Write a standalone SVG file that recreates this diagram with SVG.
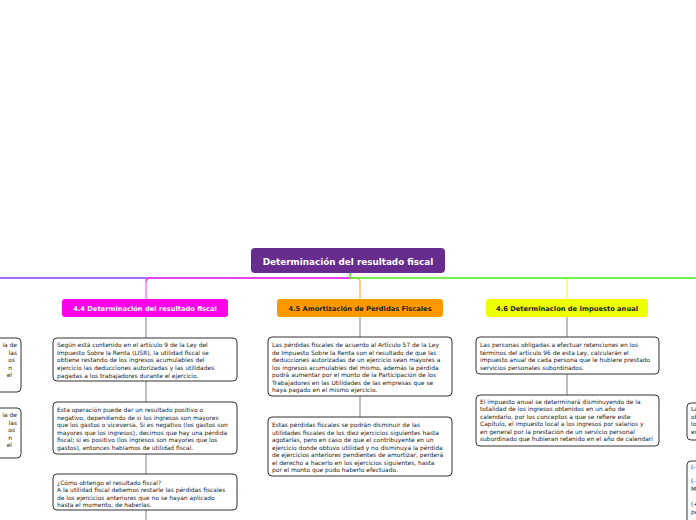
<svg xmlns="http://www.w3.org/2000/svg" width="696" height="520" viewBox="0 0 696 520">
<style>
.t{font-family:"DejaVu Sans",Verdana,sans-serif;font-size:5.95px;fill:#222}
.h{font-family:"DejaVu Sans",Verdana,sans-serif;font-size:6.7px;font-weight:bold;text-anchor:middle}
.box{fill:#fff;stroke:#333;stroke-width:1}
.g{stroke:#aaa;stroke-width:1.5;fill:none}
.c{fill:none;stroke-width:1.5}
</style>
<rect width="696" height="520" fill="#fff"/>
<g id="connectors">
<path class="c" stroke="#8a3cf0" d="M350,278 H0"/>
<path class="c" stroke="#ff33ee" d="M350,278 H150 Q146,278 146,282"/>
<path class="c" stroke="#ff77ff" d="M146,281 V299"/>
<path class="c" stroke="#ffbb66" d="M350,278 H356 Q360,278 360,282 V299"/>
<path class="c" stroke="#eeff55" d="M563,278 Q567,278 567,282 V299"/>
<path class="c" stroke="#44ee11" d="M350,273 V278 H696"/>
<path class="g" d="M146,317 V338 M146,381 V402 M146,454 V474 M146,510 V520"/>
<path class="g" d="M360,317 V337 M360,396 V417"/>
<path class="g" d="M567,317 V337 M567,374 V395"/>
</g>
<g id="root">
<rect x="251" y="248" width="194" height="25" rx="4" fill="#682c8f"/>
<text x="348" y="265" class="h" style="font-size:8.8px" fill="#fff">Determinación del resultado fiscal</text>
</g>
<g id="n44">
<rect x="62" y="299" width="166" height="18" rx="3" fill="#ff00ea"/>
<text x="145" y="310.6" class="h" fill="#fff">4.4 Determinación del resultado fiscal</text>
</g>
<g id="n45">
<rect x="277" y="299" width="166" height="18" rx="3" fill="#ff9900"/>
<text x="360" y="310.6" class="h" fill="#222">4.5 Amortización de Perdidas Fiscales</text>
</g>
<g id="n46">
<rect x="486" y="299" width="162" height="18" rx="3" fill="#eeff00"/>
<text x="567" y="310.6" class="h" fill="#222">4.6 Determinacion de Impuesto anual</text>
</g>
<g id="left1">
<rect class="box" x="-150" y="338" width="171" height="54" rx="4"/>
<text class="t" text-anchor="end"><tspan x="17" y="347">ia de</tspan><tspan x="17" y="354.5">las</tspan><tspan x="15" y="362">os</tspan><tspan x="12" y="369.5">n</tspan><tspan x="12" y="377">el</tspan></text>
</g>
<g id="left2">
<rect class="box" x="-150" y="408" width="171" height="50" rx="4"/>
<text class="t" text-anchor="end"><tspan x="17" y="417">ia de</tspan><tspan x="17" y="424.5">las</tspan><tspan x="15" y="432">os</tspan><tspan x="12" y="439.5">n</tspan><tspan x="12" y="447">el</tspan></text>
</g>
<g id="c1b1">
<rect class="box" x="53" y="338" width="184" height="43" rx="4"/>
<text class="t"><tspan x="57" y="347">Según está contenido en el artículo 9 de la Ley del</tspan><tspan x="57" y="354.7">Impuesto Sobre la Renta (LISR), la utilidad fiscal se</tspan><tspan x="57" y="362.4">obtiene restando de los ingresos acumulables del</tspan><tspan x="57" y="370.1">ejercicio las deducciones autorizadas y las utilidades</tspan><tspan x="57" y="377.8">pagadas a los trabajadores durante el ejercicio.</tspan></text>
</g>
<g id="c1b2">
<rect class="box" x="53" y="402" width="184" height="52" rx="4"/>
<text class="t"><tspan x="57" y="412">Esta operación puede dar un resultado positivo o</tspan><tspan x="57" y="419.5">negativo, dependiendo de si los ingresos son mayores</tspan><tspan x="57" y="427">que los gastos o viceversa. Si es negativo (los gastos son</tspan><tspan x="57" y="434.5">mayores que los ingresos), decimos que hay una pérdida</tspan><tspan x="57" y="442">fiscal; si es positivo (los ingresos son mayores que los</tspan><tspan x="57" y="449.5">gastos), entonces hablamos de utilidad fiscal.</tspan></text>
</g>
<g id="c1b3">
<rect class="box" x="53" y="474" width="184" height="36" rx="4"/>
<text class="t"><tspan x="57" y="484.7">¿Cómo obtengo el resultado fiscal?</tspan><tspan x="57" y="492.2">A la utilidad fiscal debemos restarle las pérdidas fiscales</tspan><tspan x="57" y="499.7">de los ejercicios anteriores que no se hayan aplicado</tspan><tspan x="57" y="507.2">hasta el momento, de haberlas.</tspan></text>
</g>
<g id="c2b1">
<rect class="box" x="268" y="337" width="184" height="59" rx="4"/>
<text class="t"><tspan x="272" y="347">Las pérdidas fiscales de acuerdo al Artículo 57 de la Ley</tspan><tspan x="272" y="354.5">de Impuesto Sobre la Renta son el resultado de que las</tspan><tspan x="272" y="362">deducciones autorizadas de un ejercicio sean mayores a</tspan><tspan x="272" y="369.5">los ingresos acumulables del mismo, además la pérdida</tspan><tspan x="272" y="377">podrá aumentar por el monto de la Participación de los</tspan><tspan x="272" y="384.5">Trabajadores en las Utilidades de las empresas que se</tspan><tspan x="272" y="392">haya pagado en el mismo ejercicio.</tspan></text>
</g>
<g id="c2b2">
<rect class="box" x="268" y="417" width="184" height="59" rx="4"/>
<text class="t"><tspan x="272" y="427">Estas pérdidas fiscales se podrán disminuir de las</tspan><tspan x="272" y="434.5">utilidades fiscales de los diez ejercicios siguientes hasta</tspan><tspan x="272" y="442">agotarlas, pero en caso de que el contribuyente en un</tspan><tspan x="272" y="449.5">ejercicio donde obtuvo utilidad y no disminuya la pérdida</tspan><tspan x="272" y="457">de ejercicios anteriores pendientes de amortizar, perderá</tspan><tspan x="272" y="464.5">el derecho a hacerlo en los ejercicios siguientes, hasta</tspan><tspan x="272" y="472">por el monto que pudo haberlo efectuado.</tspan></text>
</g>
<g id="c3b1">
<rect class="box" x="476" y="337" width="183" height="37" rx="4"/>
<text class="t"><tspan x="480" y="347">Las personas obligadas a efectuar retenciones en los</tspan><tspan x="480" y="354.6">términos del artículo 96 de esta Ley, calcularán el</tspan><tspan x="480" y="362.2">impuesto anual de cada persona que le hubiere prestado</tspan><tspan x="480" y="369.8">servicios personales subordinados.</tspan></text>
</g>
<g id="c3b2">
<rect class="box" x="476" y="395" width="183" height="51" rx="4"/>
<text class="t"><tspan x="480" y="403.7">El impuesto anual se determinará disminuyendo de la</tspan><tspan x="480" y="411.2">totalidad de los ingresos obtenidos en un año de</tspan><tspan x="480" y="418.7">calendario, por los conceptos a que se refiere este</tspan><tspan x="480" y="426.2">Capítulo, el impuesto local a los ingresos por salarios y</tspan><tspan x="480" y="433.7">en general por la prestación de un servicio personal</tspan><tspan x="480" y="441.2">subordinado que hubieran retenido en el año de calendari</tspan></text>
</g>
<g id="right1">
<rect class="box" x="687" y="403" width="40" height="37" rx="4"/>
<text class="t"><tspan x="691" y="411">La</tspan><tspan x="691" y="418.5">ob</tspan><tspan x="691" y="426">lo</tspan><tspan x="691" y="433.5">en</tspan></text>
</g>
<g id="right2">
<rect class="box" x="687" y="461" width="40" height="80" rx="4"/>
<text class="t"><tspan x="691" y="469">(-</tspan><tspan x="691" y="483">(-</tspan><tspan x="691" y="491">M</tspan><tspan x="691" y="505.5">(+</tspan><tspan x="691" y="513.5">pe</tspan></text>
</g>
</svg>
